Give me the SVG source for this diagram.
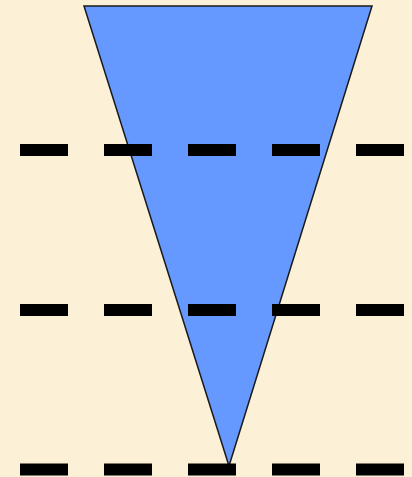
<svg xmlns="http://www.w3.org/2000/svg" width="412" height="477" viewBox="0 0 412 477">
<style>
.dash{stroke:#000;stroke-width:12;stroke-dasharray:48 36;fill:none}
</style>
<rect width="412" height="477" fill="#FCF0D7"/>
<g id="triangle">
<polygon points="84,6 372,6 229,466" fill="#6699FF" stroke="#1a1a1a" stroke-width="1.5" stroke-linejoin="miter"/>
</g>
<g id="connectors">
<line class="dash" x1="20" y1="150" x2="404" y2="150"/>
<line class="dash" x1="20" y1="310" x2="404" y2="310"/>
<line class="dash" x1="20" y1="469.5" x2="404" y2="469.5"/>
</g>
</svg>
